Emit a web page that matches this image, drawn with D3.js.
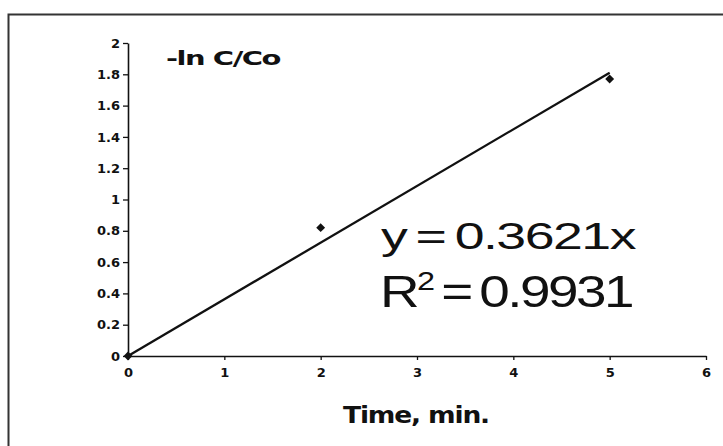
<!DOCTYPE html>
<html>
<head>
<meta charset="utf-8">
<script src="https://cdn.jsdelivr.net/npm/d3@7"></script>
<style>
  body { margin: 0; background: #fff; }
  svg { display: block; }
  text { font-family: Arial, "Liberation Sans", sans-serif; fill: #111; }
  .tick text { font-family: "DejaVu Sans", sans-serif; font-size: 13px; font-weight: bold; }
</style>
</head>
<body>
<div id="chart"></div>
<script>
// data
var timeVals = [0, 2, 5],
    lnVals = [0, 0.82, 1.77],
    xTicks = [0, 1, 2, 3, 4, 5, 6],
    yTicks = [0, 0.2, 0.4, 0.6, 0.8, 1, 1.2, 1.4, 1.6, 1.8, 2],
    slope = 0.3621,
    fitEnd = 5;

var width = 723,
    height = 446,
    margin = {top: 43, right: 17, bottom: 90, left: 128};

var svg = d3.select('#chart')
    .append('svg')
    .attr('width', width)
    .attr('height', height);

// outer frame (right and bottom edges fall outside the picture)
svg.append('path')
    .attr('d', 'M8.5,' + height + 'V14.5H' + width)
    .style('fill', 'none')
    .style('stroke', '#333')
    .style('stroke-width', 2);

var x = d3.scaleLinear().domain([0, 6]).range([margin.left, width - margin.right]);
var y = d3.scaleLinear().domain([0, 2]).range([height - margin.bottom, margin.top]);

var fmt = function (d) { return d === 0 || d === 1 || d === 2 ? String(d) : d3.format('.1f')(d); };

// Y axis
var yAxis = svg.append('g')
    .attr('transform', `translate(${x(0)},0)`)
    .call(d3.axisLeft(y).tickValues(yTicks).tickFormat(fmt).tickSize(5).tickSizeOuter(0).tickPadding(3));

// X axis
var xAxis = svg.append('g')
    .attr('transform', `translate(0,${y(0)})`)
    .call(d3.axisBottom(x).tickValues(xTicks).tickFormat(d3.format('d')).tickSize(4).tickSizeOuter(0).tickPadding(8));

[xAxis, yAxis].forEach(function (ax) {
    ax.attr('font-family', null).attr('font-size', null);
    ax.select('.domain').style('stroke', '#111').style('stroke-width', 1.6);
    ax.selectAll('.tick line').style('stroke', '#111').style('stroke-width', 1.3);
    ax.selectAll('.tick text').attr('fill', '#111');
});

// trend line
var line = d3.line().x(d => x(d)).y(d => y(d * slope));
svg.append('path')
    .datum([0, fitEnd])
    .attr('d', line)
    .style('fill', 'none')
    .style('stroke', '#111')
    .style('stroke-width', 2.3);

// data points (diamonds)
svg.selectAll('.pt')
    .data(timeVals)
    .enter().append('path')
    .attr('class', 'pt')
    .attr('transform', (d, i) => `translate(${x(d)},${y(lnVals[i])})`)
    .attr('d', d3.symbol().type(d3.symbolDiamond2).size(50))
    .style('fill', '#111');

// labels
svg.append('text')
    .attr('x', 166)
    .attr('y', 65)
    .attr('textLength', 114)
    .attr('lengthAdjust', 'spacingAndGlyphs')
    .style('font-family', '"DejaVu Sans", sans-serif')
    .style('font-size', '20px')
    .style('font-weight', 'bold')
    .style('letter-spacing', '-1px')
    .text('-ln C/Co');

svg.append('text')
    .attr('x', 343)
    .attr('y', 423)
    .attr('textLength', 146)
    .attr('lengthAdjust', 'spacingAndGlyphs')
    .style('font-family', '"DejaVu Sans", sans-serif')
    .style('font-size', '23px')
    .style('font-weight', 'bold')
    .style('letter-spacing', '-1px')
    .text('Time, min.');

svg.append('text')
    .attr('x', 381)
    .attr('y', 249)
    .attr('textLength', 254)
    .attr('lengthAdjust', 'spacingAndGlyphs')
    .style('font-size', '36px')
    .style('letter-spacing', '-1px')
    .text('y\u2009=\u20090.3621x');

var r2 = svg.append('text')
    .attr('x', 380)
    .attr('y', 307)
    .attr('textLength', 252)
    .attr('lengthAdjust', 'spacingAndGlyphs')
    .style('font-size', '44px')
    .style('letter-spacing', '-2px');
r2.append('tspan').text('R');
r2.append('tspan').attr('dy', -17).style('font-size', '26px').text('2');
r2.append('tspan').attr('dy', 17).text('\u2009=\u20090.9931');
</script>
</body>
</html>
